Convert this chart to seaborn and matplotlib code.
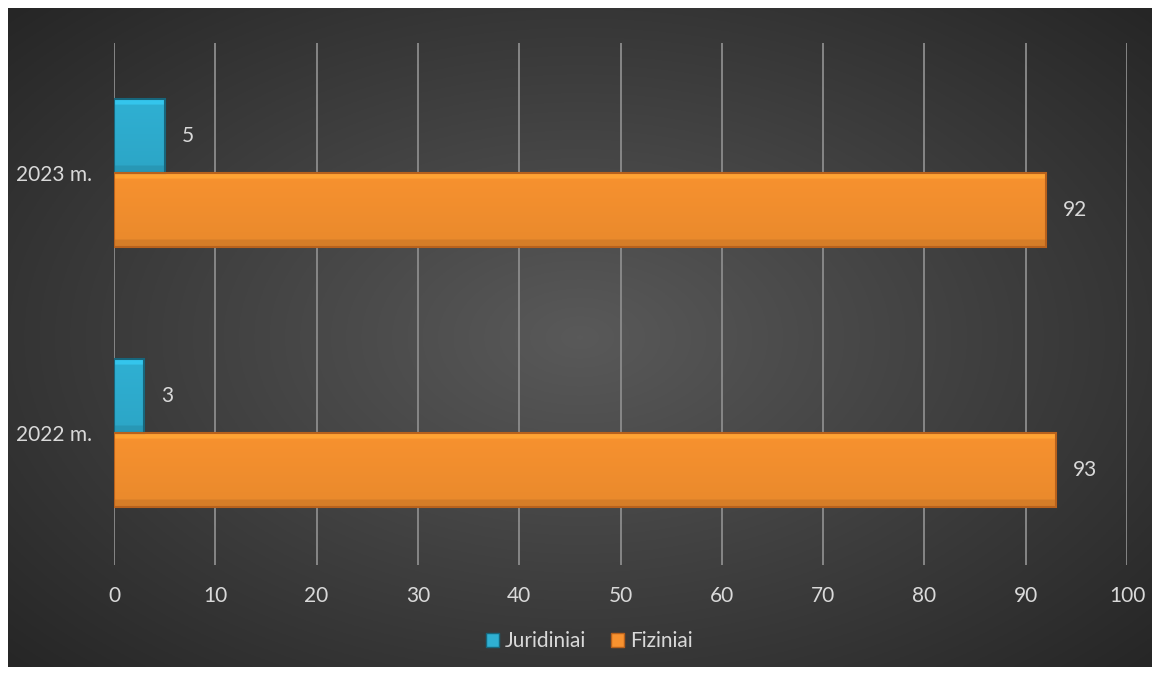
import numpy as np
import pandas as pd
import matplotlib
matplotlib.use("Agg")
import matplotlib.pyplot as plt
import seaborn as sns
from matplotlib.patches import Patch
from matplotlib.colors import to_rgb

years = ["2023 m.", "2022 m."]
series = ["Juridiniai", "Fiziniai"]
juridiniai = [5, 3]
fiziniai = [92, 93]

colors = {"Juridiniai": "#2fb0d3", "Fiziniai": "#f8922f"}
edges = {"Juridiniai": "#17667c", "Fiziniai": "#b8611c"}

df = pd.DataFrame({
    "year": years * 2,
    "type": ["Juridiniai"] * len(years) + ["Fiziniai"] * len(years),
    "value": juridiniai + fiziniai,
})

sns.set_style("dark")
plt.rcParams["font.family"] = ["Lato", "DejaVu Sans"]

fig = plt.figure(figsize=(11.6, 6.75), dpi=100, facecolor="white")

# dark radial gradient background
bg = fig.add_axes([8 / 1160, 8 / 675, 1144 / 1160, 659 / 675])
yy, xx = np.mgrid[-1:1:400j, -1:1:700j]
r = np.sqrt((xx * 0.95) ** 2 + (yy * 0.9) ** 2)
shade = 0.35 - 0.2 * np.clip(r, 0, 1.3) / 1.3
bg.imshow(np.dstack([shade] * 3), aspect="auto", extent=[0, 1, 0, 1])
bg.set_axis_off()

ax = fig.add_axes([114 / 1160, 110 / 675, 1013 / 1160, 522 / 675])
ax.set_facecolor("none")

sns.barplot(data=df, x="value", y="year", hue="type", order=years,
            hue_order=series, orient="h", width=0.57, ax=ax,
            palette=colors, saturation=1, legend=False)

ax.set_xlim(0, 100)
ax.set_ylim(1.51, -0.5)

# mild bevel shading on each bar: light strip on top, darker near bottom
t = np.linspace(0, 1, 80)
prof = np.where(t < 0.08, 1.12, np.where(t > 0.9, 0.86, 1.0 - 0.06 * t))
for cont, name in zip(ax.containers, series):
    base = np.array(to_rgb(colors[name]))
    img = np.clip(base[None, None, :] * prof[:, None, None], 0, 1)
    img = np.repeat(img, 2, axis=1)
    for bar in cont:
        x0, y0 = bar.get_x(), bar.get_y()
        w, h = bar.get_width(), bar.get_height()
        im = ax.imshow(img, extent=[x0, x0 + w, y0 + h, y0], aspect="auto",
                       zorder=bar.get_zorder() - 0.05, interpolation="bilinear")
        im.set_clip_path(bar)
        bar.set_facecolor("none")
        bar.set_edgecolor(edges[name])
        bar.set_linewidth(1.5)
    ax.bar_label(cont, padding=12, color="#d9d9d9", fontsize=15)
ax.set_xlim(0, 100)
ax.set_ylim(1.51, -0.5)

ax.set_xticks(range(0, 101, 10))
ax.grid(axis="x", color="#8c8c8c", linewidth=1.3)
ax.grid(axis="y", visible=False)
ax.set_axisbelow(True)
for s in ax.spines.values():
    s.set_visible(False)
ax.tick_params(axis="both", colors="#d9d9d9", labelsize=15, length=0)
ax.tick_params(axis="x", pad=15)
ax.tick_params(axis="y", pad=16)
ax.set_xlabel("")
ax.set_ylabel("")

handles = [Patch(facecolor=colors[s], edgecolor=edges[s], label=s) for s in series]
fig.legend(handles=handles, loc="center", bbox_to_anchor=(0.508, 0.05), ncol=2,
           frameon=False, fontsize=15, labelcolor="#d9d9d9",
           handlelength=0.6, handleheight=0.6, handletextpad=0.3, columnspacing=1.2)

fig.savefig("out.png", dpi=100, facecolor="white")
